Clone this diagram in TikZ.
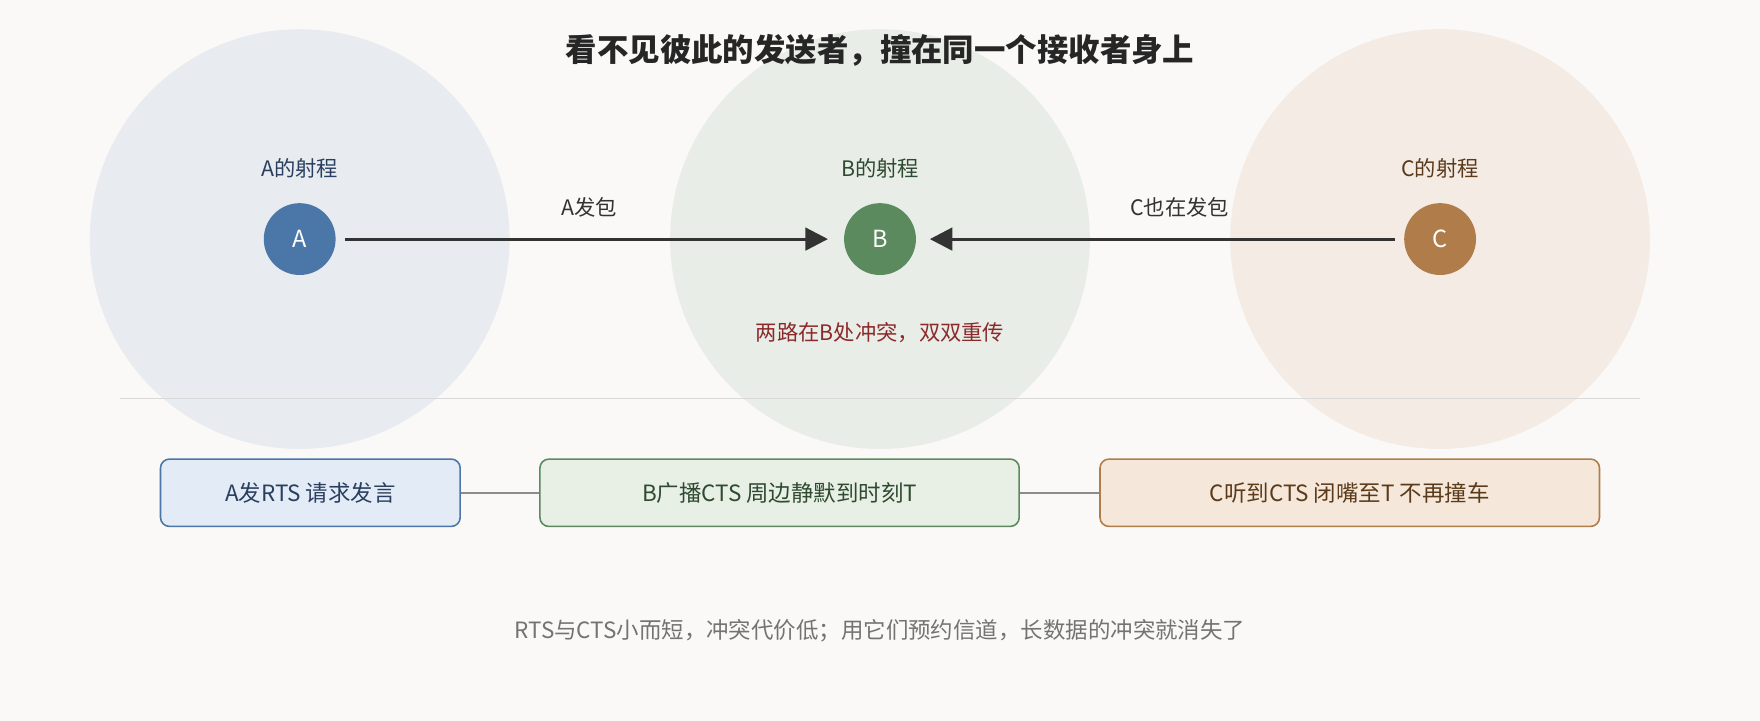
\documentclass[tikz,border=0pt]{standalone}
\usepackage{fontspec}
\setmainfont{Noto Sans CJK SC}
\usetikzlibrary{arrows.meta}
\definecolor{bg}{HTML}{FAF9F7}
\definecolor{ca}{HTML}{4A76A8}\definecolor{cb}{HTML}{5A8A5E}\definecolor{cc}{HTML}{B07D4A}
\definecolor{ra}{HTML}{E8ECF0}\definecolor{rb}{HTML}{E8EDE7}\definecolor{rc}{HTML}{F4ECE4}
\definecolor{ba}{HTML}{E3ECF6}\definecolor{bb}{HTML}{E8F0E6}\definecolor{bc}{HTML}{F5E8DA}
\definecolor{ta}{HTML}{2A3F5F}\definecolor{tb}{HTML}{2F4A30}\definecolor{tc}{HTML}{5A3A1A}
\definecolor{red}{HTML}{8B2A2A}
\begin{document}
\begin{tikzpicture}[x=0.5pt,y=-0.5pt,
 rng/.style={circle,minimum size=187pt,inner sep=0},
 st/.style={circle,minimum size=32pt,inner sep=0,text=white,font=\fontsize{10.5}{12}\selectfont},
 lab/.style={font=\fontsize{9.5}{11}\selectfont,text=black!80},
 arr/.style={draw=black!80,line width=1.4pt,-{Triangle[length=10pt,width=10pt]}},
 box/.style={rounded corners=4pt,line width=0.7pt,minimum height=30pt,inner sep=0,font=\fontsize{10}{12}\selectfont},
 link/.style={draw=black!45,line width=1pt}]
\fill[bg] (0,0) rectangle (1568,642);
\useasboundingbox (0,0) rectangle (1568,642);
\node[rng,fill=ra] (ra) at (267,213) {};
\node[rng,fill=rb] (rb) at (784,213) {};
\node[rng,fill=rc] (rc) at (1283,213) {};
\node[font=\bfseries\fontsize{14}{16}\selectfont,text=black!85] (t) at (784,45) {看不见彼此的发送者，撞在同一个接收者身上};
\node[lab,text=ta] (la) at (267,150) {A的射程};
\node[lab,text=tb] (lb) at (784,150) {B的射程};
\node[lab,text=tc] (lc) at (1283,150) {C的射程};
\node[st,fill=ca] (A) at (267,213) {A};
\node[st,fill=cb] (B) at (784,213) {B};
\node[st,fill=cc] (C) at (1283,213) {C};
\draw[arr,shorten <=4pt,shorten >=7pt] (A) -- (B);
\draw[arr,shorten <=4pt,shorten >=6pt] (C) -- (B);
\node[lab] (pa) at (525,185) {A发包};
\node[lab] (pc) at (1051,185) {C也在发包};
\node[lab,text=red] (col) at (784,296) {两路在B处冲突，双双重传};
\coordinate (l1) at (107,355); \coordinate (l2) at (1461,355);
\draw[draw=black!15,line width=0.7pt] (l1) -- (l2);
\node[box,fill=ba,draw=ca,text=ta,minimum width=133.5pt] (bxa) at (276.5,439) {A发RTS 请求发言};
\node[box,fill=bb,draw=cb,text=tb,minimum width=213.5pt] (bxb) at (694.5,439) {B广播CTS 周边静默到时刻T};
\node[box,fill=bc,draw=cc,text=tc,minimum width=222.5pt] (bxc) at (1202.5,439) {C听到CTS 闭嘴至T 不再撞车};
\draw[link] (bxa) -- (bxb);
\draw[link] (bxb) -- (bxc);
\node[font=\fontsize{10}{12}\selectfont,text=black!55] (foot) at (784,562) {RTS与CTS小而短，冲突代价低；用它们预约信道，长数据的冲突就消失了};
\end{tikzpicture}
\end{document}
